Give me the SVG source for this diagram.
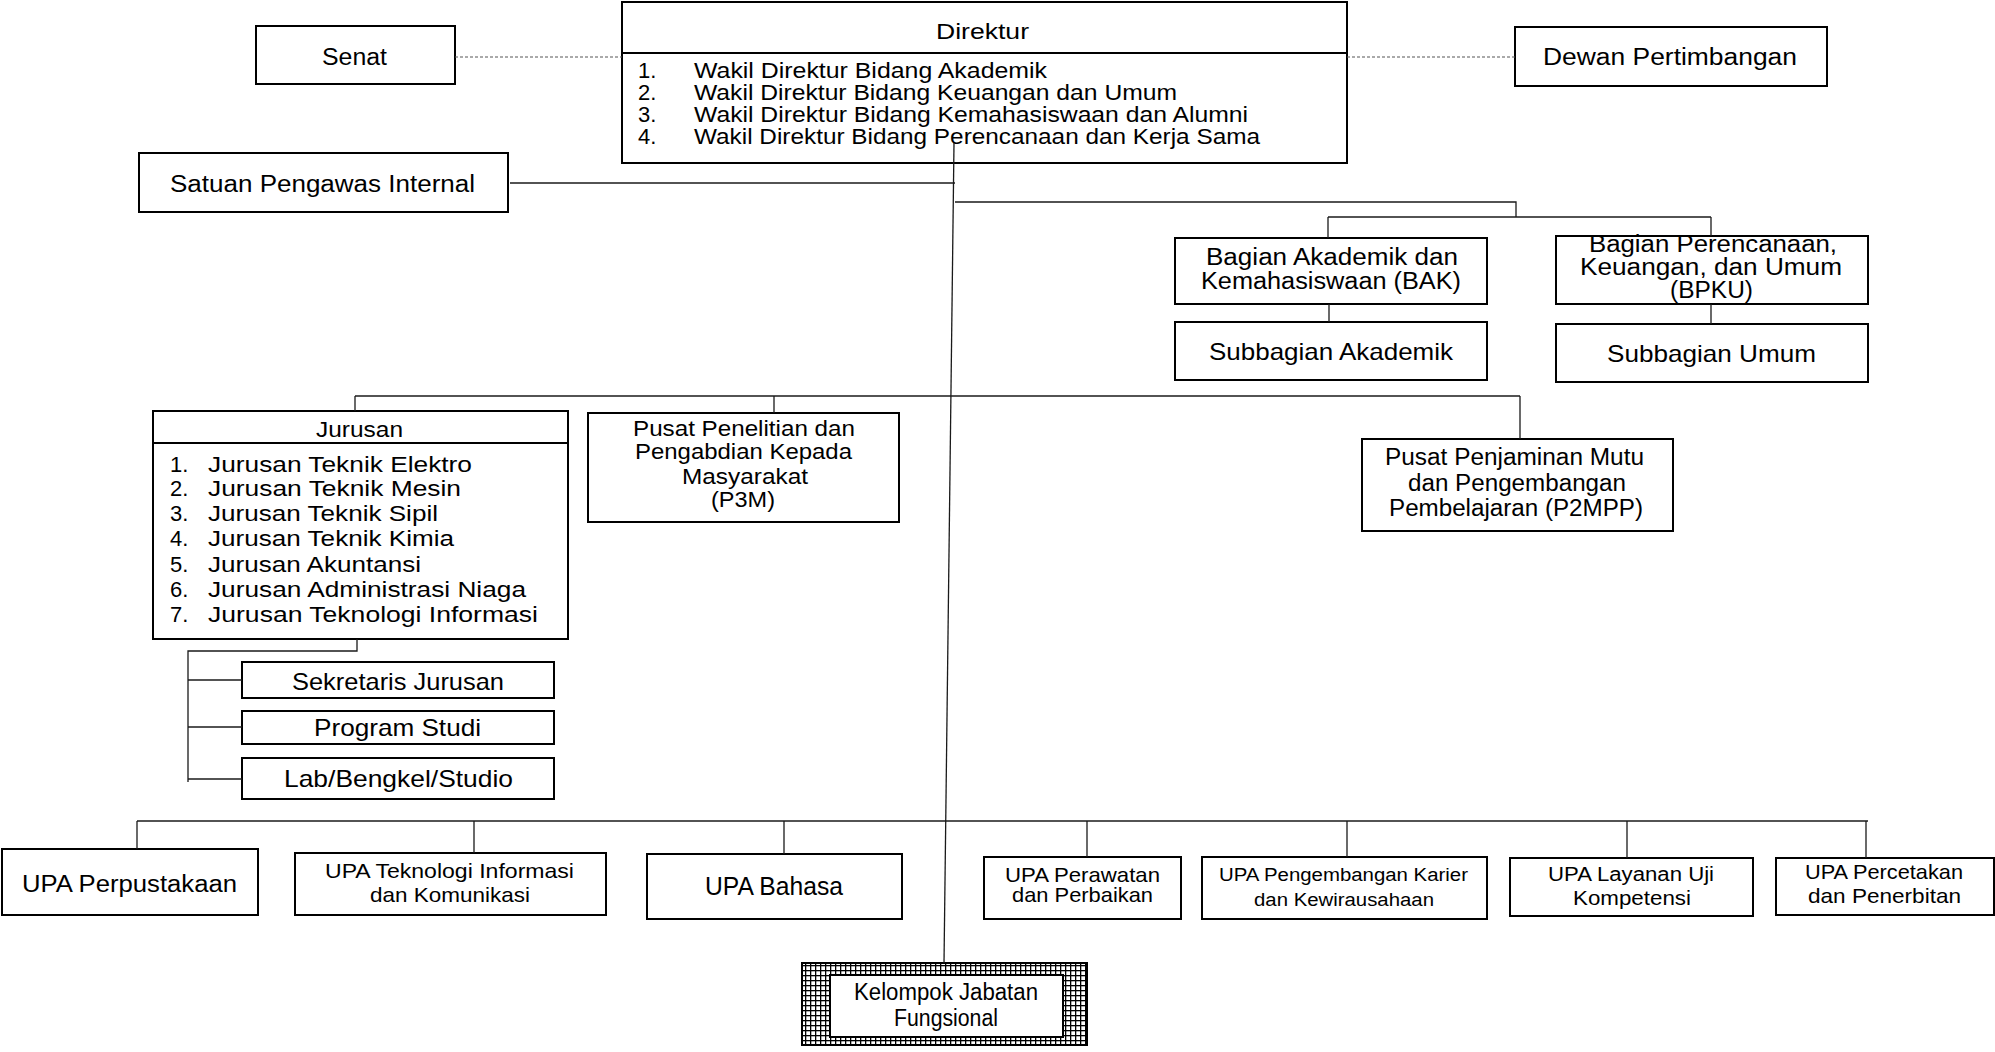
<svg xmlns="http://www.w3.org/2000/svg" width="1995" height="1052" viewBox="0 0 1995 1052">
<style>
.box{fill:#fff;stroke:#000;stroke-width:2}
.conn{stroke:#1a1a1a;stroke-width:1.3;fill:none}
.dash{stroke:#555;stroke-width:1;stroke-dasharray:3 2;fill:none}
text{font-family:"Liberation Sans",Arial,sans-serif;fill:#000}
.f18{font-size:18px}.f20{font-size:20px}.f21{font-size:21px}.f22{font-size:22px}.f23{font-size:23px}.f24{font-size:24px}.f25{font-size:25px}
</style>
<defs>
<pattern id="grid" width="5" height="5" patternUnits="userSpaceOnUse">
<rect width="5" height="5" fill="#000"/>
<rect x="1.3" y="1.3" width="3.7" height="3.7" fill="#fff"/>
</pattern>
</defs>
<rect width="1995" height="1052" fill="#fff"/>

<g id="senat"><rect class="box" x="256" y="26" width="199" height="58"/>
<text class="f23" x="322" y="65" textLength="65" lengthAdjust="spacingAndGlyphs">Senat</text></g>

<g id="dewan"><rect class="box" x="1515" y="27" width="312" height="59"/>
<text class="f23" x="1543" y="65" textLength="254" lengthAdjust="spacingAndGlyphs">Dewan Pertimbangan</text></g>

<g id="direktur"><rect class="box" x="622" y="2" width="725" height="161"/>
<line x1="622" y1="53" x2="1347" y2="53" stroke="#000" stroke-width="2"/>
<text class="f22" x="936" y="39" textLength="93" lengthAdjust="spacingAndGlyphs">Direktur</text>
<text class="f22" x="638" y="78">1.</text>
<text class="f22" x="638" y="100">2.</text>
<text class="f22" x="638" y="122">3.</text>
<text class="f22" x="638" y="144">4.</text>
<text class="f22" x="694" y="78" textLength="353" lengthAdjust="spacingAndGlyphs">Wakil Direktur Bidang Akademik</text>
<text class="f22" x="694" y="100" textLength="483" lengthAdjust="spacingAndGlyphs">Wakil Direktur Bidang Keuangan dan Umum</text>
<text class="f22" x="694" y="122" textLength="554" lengthAdjust="spacingAndGlyphs">Wakil Direktur Bidang Kemahasiswaan dan Alumni</text>
<text class="f22" x="694" y="144" textLength="566" lengthAdjust="spacingAndGlyphs">Wakil Direktur Bidang Perencanaan dan Kerja Sama</text></g>

<g id="spi"><rect class="box" x="139" y="153" width="369" height="59"/>
<text class="f23" x="170" y="192" textLength="305" lengthAdjust="spacingAndGlyphs">Satuan Pengawas Internal</text></g>

<g id="bak"><rect class="box" x="1175" y="238" width="312" height="66"/>
<text class="f23" x="1206" y="265" textLength="252" lengthAdjust="spacingAndGlyphs">Bagian Akademik dan</text>
<text class="f23" x="1201" y="289" textLength="260" lengthAdjust="spacingAndGlyphs">Kemahasiswaan (BAK)</text></g>

<g id="bpku"><rect class="box" x="1556" y="236" width="312" height="68"/>
<text class="f23" x="1589" y="252" textLength="248" lengthAdjust="spacingAndGlyphs">Bagian Perencanaan,</text>
<text class="f23" x="1580" y="275" textLength="262" lengthAdjust="spacingAndGlyphs">Keuangan, dan Umum</text>
<text class="f23" x="1670" y="298" textLength="83" lengthAdjust="spacingAndGlyphs">(BPKU)</text></g>

<g id="subbagian-akademik"><rect class="box" x="1175" y="322" width="312" height="58"/>
<text class="f24" x="1209" y="360" textLength="244" lengthAdjust="spacingAndGlyphs">Subbagian Akademik</text></g>

<g id="subbagian-umum"><rect class="box" x="1556" y="324" width="312" height="58"/>
<text class="f24" x="1607" y="362" textLength="209" lengthAdjust="spacingAndGlyphs">Subbagian Umum</text></g>

<g id="p2mpp"><rect class="box" x="1362" y="439" width="311" height="92"/>
<text class="f23" x="1385" y="465" textLength="259" lengthAdjust="spacingAndGlyphs">Pusat Penjaminan Mutu</text>
<text class="f23" x="1408" y="491" textLength="218" lengthAdjust="spacingAndGlyphs">dan Pengembangan</text>
<text class="f23" x="1389" y="516" textLength="254" lengthAdjust="spacingAndGlyphs">Pembelajaran (P2MPP)</text></g>

<g id="jurusan"><rect class="box" x="153" y="411" width="415" height="228"/>
<line x1="153" y1="443" x2="568" y2="443" stroke="#000" stroke-width="2"/>
<text class="f22" x="316" y="437" textLength="87" lengthAdjust="spacingAndGlyphs">Jurusan</text>
<text class="f22" x="170" y="472">1.</text>
<text class="f22" x="170" y="496">2.</text>
<text class="f22" x="170" y="521">3.</text>
<text class="f22" x="170" y="546">4.</text>
<text class="f22" x="170" y="572">5.</text>
<text class="f22" x="170" y="597">6.</text>
<text class="f22" x="170" y="622">7.</text>
<text class="f22" x="208" y="472" textLength="264" lengthAdjust="spacingAndGlyphs">Jurusan Teknik Elektro</text>
<text class="f22" x="208" y="496" textLength="253" lengthAdjust="spacingAndGlyphs">Jurusan Teknik Mesin</text>
<text class="f22" x="208" y="521" textLength="230" lengthAdjust="spacingAndGlyphs">Jurusan Teknik Sipil</text>
<text class="f22" x="208" y="546" textLength="246" lengthAdjust="spacingAndGlyphs">Jurusan Teknik Kimia</text>
<text class="f22" x="208" y="572" textLength="213" lengthAdjust="spacingAndGlyphs">Jurusan Akuntansi</text>
<text class="f22" x="208" y="597" textLength="318" lengthAdjust="spacingAndGlyphs">Jurusan Administrasi Niaga</text>
<text class="f22" x="208" y="622" textLength="330" lengthAdjust="spacingAndGlyphs">Jurusan Teknologi Informasi</text></g>

<g id="p3m"><rect class="box" x="588" y="413" width="311" height="109"/>
<text class="f22" x="633" y="436" textLength="222" lengthAdjust="spacingAndGlyphs">Pusat Penelitian dan</text>
<text class="f22" x="635" y="459" textLength="217" lengthAdjust="spacingAndGlyphs">Pengabdian Kepada</text>
<text class="f22" x="682" y="484" textLength="126" lengthAdjust="spacingAndGlyphs">Masyarakat</text>
<text class="f22" x="711" y="507" textLength="64" lengthAdjust="spacingAndGlyphs">(P3M)</text></g>

<g id="sekretaris-jurusan"><rect class="box" x="242" y="662" width="312" height="36"/>
<text class="f24" x="292" y="690" textLength="212" lengthAdjust="spacingAndGlyphs">Sekretaris Jurusan</text></g>

<g id="program-studi"><rect class="box" x="242" y="711" width="312" height="33"/>
<text class="f24" x="314" y="736" textLength="167" lengthAdjust="spacingAndGlyphs">Program Studi</text></g>

<g id="lab"><rect class="box" x="242" y="758" width="312" height="41"/>
<text class="f24" x="284" y="787" textLength="229" lengthAdjust="spacingAndGlyphs">Lab/Bengkel/Studio</text></g>

<g id="upa-perpustakaan"><rect class="box" x="2" y="849" width="256" height="66"/>
<text class="f23" x="22" y="892" textLength="215" lengthAdjust="spacingAndGlyphs">UPA Perpustakaan</text></g>

<g id="upa-tik"><rect class="box" x="295" y="853" width="311" height="62"/>
<text class="f21" x="325" y="878" textLength="249" lengthAdjust="spacingAndGlyphs">UPA Teknologi Informasi</text>
<text class="f21" x="370" y="902" textLength="160" lengthAdjust="spacingAndGlyphs">dan Komunikasi</text></g>

<g id="upa-bahasa"><rect class="box" x="647" y="854" width="255" height="65"/>
<text class="f25" x="705" y="895" textLength="138" lengthAdjust="spacingAndGlyphs">UPA Bahasa</text></g>

<g id="upa-perawatan"><rect class="box" x="984" y="857" width="197" height="62"/>
<text class="f21" x="1005" y="882" textLength="155" lengthAdjust="spacingAndGlyphs">UPA Perawatan</text>
<text class="f21" x="1012" y="902" textLength="141" lengthAdjust="spacingAndGlyphs">dan Perbaikan</text></g>

<g id="upa-karier"><rect class="box" x="1202" y="857" width="285" height="62"/>
<text class="f18" x="1219" y="881" textLength="249" lengthAdjust="spacingAndGlyphs">UPA Pengembangan Karier</text>
<text class="f18" x="1254" y="906" textLength="180" lengthAdjust="spacingAndGlyphs">dan Kewirausahaan</text></g>

<g id="upa-layanan"><rect class="box" x="1510" y="858" width="243" height="58"/>
<text class="f20" x="1548" y="881" textLength="166" lengthAdjust="spacingAndGlyphs">UPA Layanan Uji</text>
<text class="f20" x="1573" y="905" textLength="118" lengthAdjust="spacingAndGlyphs">Kompetensi</text></g>

<g id="upa-percetakan"><rect class="box" x="1776" y="858" width="218" height="57"/>
<text class="f21" x="1805" y="879" textLength="158" lengthAdjust="spacingAndGlyphs">UPA Percetakan</text>
<text class="f21" x="1808" y="903" textLength="153" lengthAdjust="spacingAndGlyphs">dan Penerbitan</text></g>

<g id="kelompok-jabatan"><rect x="802" y="963" width="285" height="82" fill="url(#grid)" stroke="#000" stroke-width="2"/>
<rect class="box" x="830" y="975" width="233" height="62"/>
<text class="f23" x="854" y="1000" textLength="184" lengthAdjust="spacingAndGlyphs">Kelompok Jabatan</text>
<text class="f23" x="894" y="1026" textLength="104" lengthAdjust="spacingAndGlyphs">Fungsional</text></g>

<g id="connectors">
<line class="dash" x1="455" y1="57" x2="622" y2="57"/>
<line class="dash" x1="1347" y1="57" x2="1515" y2="57"/>
<line class="conn" x1="954" y1="143" x2="944" y2="963"/>
<line class="conn" x1="510" y1="183" x2="955" y2="183"/>
<polyline class="conn" points="955,202 1516,202 1516,217"/>
<line class="conn" x1="1328" y1="217" x2="1711" y2="217"/>
<line class="conn" x1="1328" y1="217" x2="1328" y2="238"/>
<line class="conn" x1="1711" y1="217" x2="1711" y2="236"/>
<line class="conn" x1="1329" y1="304" x2="1329" y2="322"/>
<line class="conn" x1="1711" y1="304" x2="1711" y2="324"/>
<line class="conn" x1="355" y1="396" x2="1520" y2="396"/>
<line class="conn" x1="355" y1="396" x2="355" y2="411"/>
<line class="conn" x1="774" y1="396" x2="774" y2="413"/>
<line class="conn" x1="1520" y1="396" x2="1520" y2="439"/>
<polyline class="conn" points="357,639 357,651 188,651 188,782"/>
<line class="conn" x1="188" y1="680" x2="242" y2="680"/>
<line class="conn" x1="188" y1="727" x2="242" y2="727"/>
<line class="conn" x1="188" y1="779" x2="242" y2="779"/>
<line class="conn" x1="137" y1="821" x2="1868" y2="821"/>
<line class="conn" x1="137" y1="821" x2="137" y2="849"/>
<line class="conn" x1="474" y1="821" x2="474" y2="853"/>
<line class="conn" x1="784" y1="821" x2="784" y2="854"/>
<line class="conn" x1="1087" y1="821" x2="1087" y2="857"/>
<line class="conn" x1="1347" y1="821" x2="1347" y2="857"/>
<line class="conn" x1="1627" y1="821" x2="1627" y2="858"/>
<line class="conn" x1="1866" y1="821" x2="1866" y2="858"/>
</g>
</svg>
